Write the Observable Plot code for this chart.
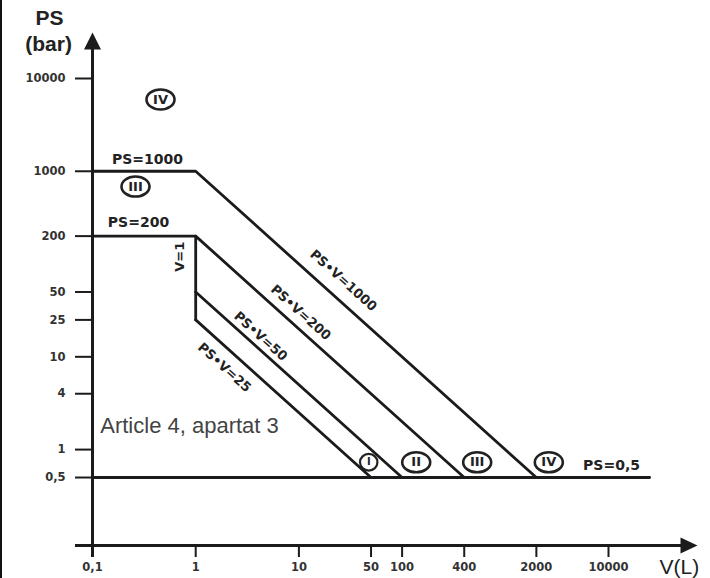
<!DOCTYPE html>
<html>
<head>
<meta charset="utf-8">
<script src="https://cdn.jsdelivr.net/npm/d3@7"></script>
<script src="https://cdn.jsdelivr.net/npm/@observablehq/plot@0.6"></script>
<style>
  html, body { margin: 0; padding: 0; background: #fff; }
  #wrap { position: relative; width: 710px; height: 578px; overflow: hidden; }
  #edge { position: absolute; left: 0; top: 0; width: 2px; height: 578px; background: #111; }
</style>
</head>
<body>
<div id="wrap"><div id="edge"></div></div>
<script>
// ---------- data ----------
const xTicks = [0.1, 1, 10, 50, 100, 400, 2000, 10000];
const yTicks = [0.5, 1, 4, 10, 25, 50, 200, 1000, 10000];

// boundary curves (V in litres, PS in bar)
const curveNames = ["PS=1000 / PS·V=1000", "PS=200 / PS·V=200", "V=1", "PS·V=50", "PS·V=25", "PS=0,5"];
const curveV  = [[0.1, 1, 2000], [0.1, 1, 400], [1, 1], [1, 100], [1, 50], [0.1, 25000]];
const curvePS = [[1000, 1000, 0.5], [200, 200, 0.5], [200, 25], [50, 0.5], [25, 0.5], [0.5, 0.5]];

// slanted labels along the PS·V curves
const slopeText = ["PS•V=1000", "PS•V=200", "PS•V=50", "PS•V=25"];
const slopeV    = [27.0, 10.4, 4.25, 1.90];
const slopePS   = [66.5, 30.0, 16.6, 7.67];

// horizontal labels
const flatText = ["PS=1000", "PS=200", "PS=0,5"];
const flatV    = [0.341, 0.279, 10700];
const flatPS   = [1340, 277, 0.673];

// category markers (circled roman numerals)
const catText = ["IV", "III", "II", "III", "IV"];
const catV    = [0.456, 0.261, 137, 534, 2640];
const catPS   = [5940, 685, 0.73, 0.73, 0.73];
const smallCatText = ["I"];
const smallCatV    = [47.5];
const smallCatPS   = [0.73];

// note
const noteText = ["Article 4, apartat 3"];
const noteV = [0.871];
const notePS = [1.82];

// vertical-line label
const vText = ["V=1"];
const vV = [0.697];
const vPS = [120];

// axis titles
const yTitleText = ["PS", "(bar)"];
const yTitleV    = [0.0383, 0.0375];
const yTitlePS   = [44300, 23300];
const xTitleText = ["V(L)"];
const xTitleV    = [48700];
const xTitlePS   = [0.0536];

// axis extents (value space)
const yFloor = 0.0925;          // PS value where the V axis sits
const xAxisExtent = [0.0684, 55000];
const xArrowTip = 72800;
const yAxisExtent = [0.0687, 22700];
const yArrowTip = 31300;

// ---------- helpers ----------
const fmt = d => String(d).replace(".", ",");
const ink = "#1b1b1b";

function ellipseSymbol(aspect) {
  return {
    draw(ctx, size) {
      const r = Math.sqrt(size / Math.PI);
      const rx = r * aspect, ry = r, k = 0.5523;
      ctx.moveTo(rx, 0);
      ctx.bezierCurveTo(rx, ry * k, rx * k, ry, 0, ry);
      ctx.bezierCurveTo(-rx * k, ry, -rx, ry * k, -rx, 0);
      ctx.bezierCurveTo(-rx, -ry * k, -rx * k, -ry, 0, -ry);
      ctx.bezierCurveTo(rx * k, -ry, rx, -ry * k, rx, 0);
      ctx.closePath();
    }
  };
}
const arrowUp = { draw(ctx) { ctx.moveTo(0, 0); ctx.lineTo(-8.5, 17); ctx.lineTo(8.5, 17); ctx.closePath(); } };
const arrowRight = { draw(ctx) { ctx.moveTo(0, 0); ctx.lineTo(-17, -8); ctx.lineTo(-17, 8); ctx.closePath(); } };

// ---------- tables ----------
const curveRows = curveNames.flatMap((name, i) => curveV[i].map((v, j) => ({name, V: v, PS: curvePS[i][j]})));
const slopeRows = slopeText.map((t, i) => ({t, V: slopeV[i], PS: slopePS[i]}));
const flatRows = flatText.map((t, i) => ({t, V: flatV[i], PS: flatPS[i]}));
const catRows = catText.map((t, i) => ({t, V: catV[i], PS: catPS[i]}));
const smallCatRows = smallCatText.map((t, i) => ({t, V: smallCatV[i], PS: smallCatPS[i]}));
const noteRows = noteText.map((t, i) => ({t, V: noteV[i], PS: notePS[i]}));
const vRows = vText.map((t, i) => ({t, V: vV[i], PS: vPS[i]}));
const yTitleRows = yTitleText.map((t, i) => ({t, V: yTitleV[i], PS: yTitlePS[i]}));
const xTitleRows = xTitleText.map((t, i) => ({t, V: xTitleV[i], PS: xTitlePS[i]}));

// layout
const W = 710, H = 578;
const mL = 92, mR = 102, mT = 78, mB = 33;
const pxPerDecX = (W - mL - mR) / (Math.log10(10000) - Math.log10(0.1));
const pxPerDecY = (H - mT - mB) / (Math.log10(10000) - Math.log10(yFloor));
const slopeAngle = Math.atan2(pxPerDecY, pxPerDecX) * 180 / Math.PI;
const sansA = "'Liberation Sans', Arial, sans-serif";
const blank = () => "";

const chart = Plot.plot({
  width: W, height: H,
  marginLeft: mL, marginRight: mR, marginTop: mT, marginBottom: mB,
  x: {type: "log", domain: [0.1, 10000]},
  y: {type: "log", domain: [yFloor, 10000]},
  style: {fontFamily: "'DejaVu Sans', sans-serif", background: "white", overflow: "visible"},
  marks: [
    // axes lines
    Plot.ruleY([yFloor], {x1: xAxisExtent[0], x2: xAxisExtent[1], stroke: ink, strokeWidth: 3}),
    Plot.ruleX([0.1], {y1: yAxisExtent[0], y2: yAxisExtent[1], stroke: ink, strokeWidth: 3}),
    Plot.dot([{V: xArrowTip, PS: yFloor}], {x: "V", y: "PS", symbol: arrowRight, r: 8, fill: ink, stroke: null}),
    Plot.dot([{V: 0.1, PS: yArrowTip}], {x: "V", y: "PS", symbol: arrowUp, r: 8, fill: ink, stroke: null}),
    // ticks (marks only; labels drawn below)
    Plot.axisX({ticks: xTicks, tickFormat: blank, tickSize: 12, label: null, stroke: ink, strokeWidth: 2}),
    Plot.axisY({ticks: yTicks, tickFormat: blank, tickSize: 17, label: null, stroke: ink, strokeWidth: 2}),
    Plot.text(xTicks, {x: d => d, y: yFloor, dy: 22, text: fmt, fontSize: 11.5, fontWeight: "bold", fill: "#333"}),
    Plot.text(yTicks, {x: 0.1, y: d => d, dx: -27, text: fmt, textAnchor: "end", fontSize: 11.5, fontWeight: "bold", fill: "#333"}),
    // boundary curves
    Plot.line(curveRows, {x: "V", y: "PS", z: "name", stroke: ink, strokeWidth: 2.8, strokeLinejoin: "round"}),
    // labels
    Plot.text(slopeRows, {x: "V", y: "PS", text: "t", rotate: slopeAngle, fontSize: 13, fontWeight: "bold", fill: "#222"}),
    Plot.text(flatRows, {x: "V", y: "PS", text: "t", fontSize: 14, fontWeight: "bold", fill: "#222"}),
    Plot.text(vRows, {x: "V", y: "PS", text: "t", rotate: -90, fontSize: 13, fontWeight: "bold", fill: "#222"}),
    Plot.text(noteRows, {x: "V", y: "PS", text: "t", fontSize: 22, fontFamily: sansA, fill: "#444"}),
    // category markers
    Plot.dot(catRows, {x: "V", y: "PS", symbol: ellipseSymbol(1.4), r: 10, stroke: "#222", strokeWidth: 2.6, fill: "none"}),
    Plot.text(catRows, {x: "V", y: "PS", text: "t", fontSize: 13, fontWeight: "bold", fill: "#222"}),
    Plot.dot(smallCatRows, {x: "V", y: "PS", symbol: ellipseSymbol(1.05), r: 8.3, stroke: "#222", strokeWidth: 2.2, fill: "none"}),
    Plot.text(smallCatRows, {x: "V", y: "PS", text: "t", fontSize: 10, fontWeight: "bold", fill: "#222"}),
    // axis titles
    Plot.text(yTitleRows, {x: "V", y: "PS", text: "t", fontSize: 21, fontWeight: "bold", fontFamily: sansA, fill: "#222"}),
    Plot.text(xTitleRows, {x: "V", y: "PS", text: "t", fontSize: 21, fontFamily: sansA, fill: "#222"})
  ]
});
document.getElementById("wrap").appendChild(chart);
</script>
</body>
</html>
